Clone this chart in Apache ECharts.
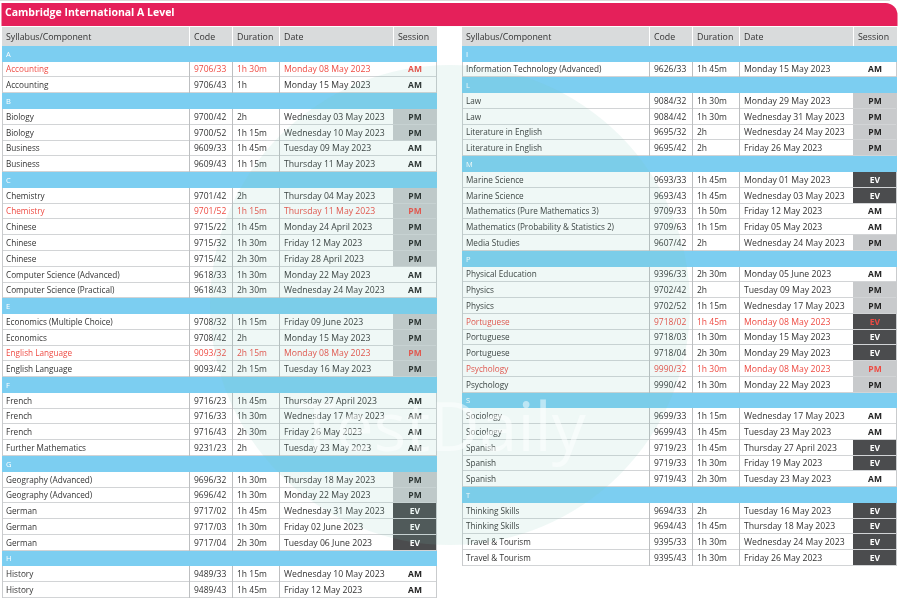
<!DOCTYPE html>
<html>
<head>
<meta charset="utf-8">
<script src="https://cdn.jsdelivr.net/npm/echarts@6/dist/echarts.min.js"></script>
<style>
  html, body { margin: 0; padding: 0; background: #fff; }
  #main { width: 900px; height: 605px; }
</style>
</head>
<body>
<div id="main"></div>
<script>
const headers = ['Syllabus/Component', 'Code', 'Duration', 'Date', 'Session'];

// left table (letter rows have an empty code)
const leftSyllabus = ['A', 'Accounting', 'Accounting', 'B', 'Biology', 'Biology', 'Business', 'Business',
  'C', 'Chemistry', 'Chemistry', 'Chinese', 'Chinese', 'Chinese', 'Computer Science (Advanced)', 'Computer Science (Practical)',
  'E', 'Economics (Multiple Choice)', 'Economics', 'English Language', 'English Language',
  'F', 'French', 'French', 'French', 'Further Mathematics',
  'G', 'Geography (Advanced)', 'Geography (Advanced)', 'German', 'German', 'German',
  'H', 'History', 'History'];
const leftCode = ['', '9706/33', '9706/43', '', '9700/42', '9700/52', '9609/33', '9609/43',
  '', '9701/42', '9701/52', '9715/22', '9715/32', '9715/42', '9618/33', '9618/43',
  '', '9708/32', '9708/42', '9093/32', '9093/42',
  '', '9716/23', '9716/33', '9716/43', '9231/23',
  '', '9696/32', '9696/42', '9717/02', '9717/03', '9717/04',
  '', '9489/33', '9489/43'];
const leftDuration = ['', '1h 30m', '1h', '', '2h', '1h 15m', '1h 45m', '1h 15m',
  '', '2h', '1h 15m', '1h 45m', '1h 30m', '2h 30m', '1h 30m', '2h 30m',
  '', '1h 15m', '2h', '2h 15m', '2h 15m',
  '', '1h 45m', '1h 30m', '2h 30m', '2h',
  '', '1h 30m', '1h 30m', '1h 45m', '1h 30m', '2h 30m',
  '', '1h 15m', '1h 45m'];
const leftDate = ['', 'Monday 08 May 2023', 'Monday 15 May 2023', '', 'Wednesday 03 May 2023', 'Wednesday 10 May 2023', 'Tuesday 09 May 2023', 'Thursday 11 May 2023',
  '', 'Thursday 04 May 2023', 'Thursday 11 May 2023', 'Monday 24 April 2023', 'Friday 12 May 2023', 'Friday 28 April 2023', 'Monday 22 May 2023', 'Wednesday 24 May 2023',
  '', 'Friday 09 June 2023', 'Monday 15 May 2023', 'Monday 08 May 2023', 'Tuesday 16 May 2023',
  '', 'Thursday 27 April 2023', 'Wednesday 17 May 2023', 'Friday 26 May 2023', 'Tuesday 23 May 2023',
  '', 'Thursday 18 May 2023', 'Monday 22 May 2023', 'Wednesday 31 May 2023', 'Friday 02 June 2023', 'Tuesday 06 June 2023',
  '', 'Wednesday 10 May 2023', 'Friday 12 May 2023'];
const leftSession = ['', 'AM', 'AM', '', 'PM', 'PM', 'AM', 'AM',
  '', 'PM', 'PM', 'PM', 'PM', 'PM', 'AM', 'AM',
  '', 'PM', 'PM', 'PM', 'PM',
  '', 'AM', 'AM', 'AM', 'AM',
  '', 'PM', 'PM', 'EV', 'EV', 'EV',
  '', 'AM', 'AM'];
const leftRed = [1, 10, 19];

// right table
const rightSyllabus = ['I', 'Information Technology (Advanced)', 'L', 'Law', 'Law', 'Literature in English', 'Literature in English',
  'M', 'Marine Science', 'Marine Science', 'Mathematics (Pure Mathematics 3)', 'Mathematics (Probability & Statistics 2)', 'Media Studies',
  'P', 'Physical Education', 'Physics', 'Physics', 'Portuguese', 'Portuguese', 'Portuguese', 'Psychology', 'Psychology',
  'S', 'Sociology', 'Sociology', 'Spanish', 'Spanish', 'Spanish',
  'T', 'Thinking Skills', 'Thinking Skills', 'Travel & Tourism', 'Travel & Tourism'];
const rightCode = ['', '9626/33', '', '9084/32', '9084/42', '9695/32', '9695/42',
  '', '9693/33', '9693/43', '9709/33', '9709/63', '9607/42',
  '', '9396/33', '9702/42', '9702/52', '9718/02', '9718/03', '9718/04', '9990/32', '9990/42',
  '', '9699/33', '9699/43', '9719/23', '9719/33', '9719/43',
  '', '9694/33', '9694/43', '9395/33', '9395/43'];
const rightDuration = ['', '1h 45m', '', '1h 30m', '1h 30m', '2h', '2h',
  '', '1h 45m', '1h 45m', '1h 50m', '1h 15m', '2h',
  '', '2h 30m', '2h', '1h 15m', '1h 45m', '1h 30m', '2h 30m', '1h 30m', '1h 30m',
  '', '1h 15m', '1h 45m', '1h 45m', '1h 30m', '2h 30m',
  '', '2h', '1h 45m', '1h 30m', '1h 30m'];
const rightDate = ['', 'Monday 15 May 2023', '', 'Monday 29 May 2023', 'Wednesday 31 May 2023', 'Wednesday 24 May 2023', 'Friday 26 May 2023',
  '', 'Monday 01 May 2023', 'Wednesday 03 May 2023', 'Friday 12 May 2023', 'Friday 05 May 2023', 'Wednesday 24 May 2023',
  '', 'Monday 05 June 2023', 'Tuesday 09 May 2023', 'Wednesday 17 May 2023', 'Monday 08 May 2023', 'Monday 15 May 2023', 'Monday 29 May 2023', 'Monday 08 May 2023', 'Monday 22 May 2023',
  '', 'Wednesday 17 May 2023', 'Tuesday 23 May 2023', 'Thursday 27 April 2023', 'Friday 19 May 2023', 'Tuesday 23 May 2023',
  '', 'Tuesday 16 May 2023', 'Thursday 18 May 2023', 'Wednesday 24 May 2023', 'Friday 26 May 2023'];
const rightSession = ['', 'AM', '', 'PM', 'PM', 'PM', 'PM',
  '', 'EV', 'EV', 'AM', 'AM', 'PM',
  '', 'AM', 'PM', 'PM', 'EV', 'EV', 'EV', 'PM', 'PM',
  '', 'AM', 'AM', 'EV', 'EV', 'AM',
  '', 'EV', 'EV', 'EV', 'EV'];
const rightRed = [17, 20];

// column edges in px along the x axis of each table
const COLS = [0, 186.5, 230.3, 277, 391, 435];
const HEAD = 1.2;   // header height, in row units
const FONT = '"Open Sans", sans-serif';

const sessionBg = { AM: '#ffffff', PM: '#c8cacc', EV: '#4b4c4e' };

function makeRender(t) {
  return function (params, api) {
    const i = api.value(0);
    const xs = COLS.map(c => Math.round(api.coord([c, 0])[0]));
    const y0 = Math.round(api.coord([0, i < 0 ? -HEAD : i])[1]);
    const y1 = Math.round(api.coord([0, i < 0 ? 0 : i + 1])[1]);
    const h = y1 - y0, w = xs[5] - xs[0], ym = (y0 + y1) / 2;
    const kids = [];
    const txt = (x, s, color, size, align, weight) => ({
      type: 'text',
      style: { x: x, y: ym + 0.5, text: s, fill: color, align: align || 'left', verticalAlign: 'middle',
        fontFamily: FONT, fontSize: size, fontWeight: weight || 'normal' }
    });
    const vline = (x, stroke) => ({ type: 'line', shape: { x1: x + 0.5, y1: y0, x2: x + 0.5, y2: y1 }, style: { stroke: stroke, lineWidth: 1 } });

    if (i < 0) {
      kids.push({ type: 'rect', shape: { x: xs[0], y: y0, width: w, height: h }, style: { fill: '#d9dbdc' } });
      for (let k = 1; k < 5; k++) kids.push(vline(xs[k], '#ffffff'));
      kids.push(txt(xs[0] + 4, headers[0], '#333', 8.8, 'left', 500));
      for (let k = 1; k < 5; k++) kids.push(txt(xs[k] + 5, headers[k], '#333', 8.8, 'left', 500));
      return { type: 'group', children: kids };
    }
    if (t.code[i] === '') {
      kids.push({ type: 'rect', shape: { x: xs[0], y: y0, width: w, height: h }, style: { fill: '#7ccef1' } });
      kids.push(txt(xs[0] + 4, t.syllabus[i], '#ffffff', 7.5));
      return { type: 'group', children: kids };
    }
    const red = t.red.indexOf(i) >= 0;
    const col = red ? '#ee4b43' : '#333';
    const ses = t.session[i];
    kids.push({ type: 'rect', shape: { x: xs[0], y: y0, width: w, height: h }, style: { fill: '#ffffff' } });
    kids.push({ type: 'rect', shape: { x: xs[4], y: y0, width: xs[5] - xs[4], height: h }, style: { fill: sessionBg[ses] } });
    kids.push({ type: 'line', shape: { x1: xs[0], y1: y1 - 0.5, x2: xs[5], y2: y1 - 0.5 }, style: { stroke: '#d2d4d6', lineWidth: 1 } });
    kids.push(vline(xs[0], '#c9cbcd'));
    for (let k = 1; k < 4; k++) kids.push(vline(xs[k], '#bdbfc1'));
    kids.push(vline(xs[5] - 1, '#c9cbcd'));
    kids.push(txt(xs[0] + 4, t.syllabus[i], col, 8.2));
    kids.push(txt(xs[1] + 5, t.code[i], col, 8.5));
    kids.push(txt(xs[2] + 5, t.duration[i], col, 8.5));
    kids.push(txt(xs[3] + 5, t.date[i], col, 8.7));
    const sesCol = red ? '#ee4b43' : (ses === 'EV' ? '#ffffff' : '#222');
    kids.push(txt((xs[4] + xs[5]) / 2, ses, sesCol, 8.5, 'center', 'bold'));
    return { type: 'group', children: kids };
  };
}

const leftTable = { syllabus: leftSyllabus, code: leftCode, duration: leftDuration, date: leftDate, session: leftSession, red: leftRed };
const rightTable = { syllabus: rightSyllabus, code: rightCode, duration: rightDuration, date: rightDate, session: rightSession, red: rightRed };

function rowsOf(t) {
  const d = [[-1]];
  t.syllabus.forEach((s, i) => d.push([i]));
  return d;
}

const ROW_PX = 15.77;
const chart = echarts.init(document.getElementById('main'), null, { renderer: 'canvas' });
chart.setOption({
  backgroundColor: '#ffffff',
  animation: false,
  title: {
    text: 'Cambridge International A Level',
    left: 5, top: 8, padding: 0,
    textStyle: { color: '#ffffff', fontSize: 10.5, fontWeight: 'bold', fontFamily: FONT }
  },
  grid: [
    { left: 2, top: 27, width: 435, height: Math.round((leftSyllabus.length + HEAD) * ROW_PX) },
    { left: 462, top: 27, width: 435, height: Math.round((rightSyllabus.length + HEAD) * ROW_PX) }
  ],
  xAxis: [
    { type: 'value', gridIndex: 0, min: 0, max: 435, show: false },
    { type: 'value', gridIndex: 1, min: 0, max: 435, show: false }
  ],
  yAxis: [
    { type: 'value', gridIndex: 0, min: -HEAD, max: leftSyllabus.length, inverse: true, show: false },
    { type: 'value', gridIndex: 1, min: -HEAD, max: rightSyllabus.length, inverse: true, show: false }
  ],
  graphic: [
    { type: 'line', z: -1, shape: { x1: 0, y1: 0.5, x2: 890, y2: 0.5 }, style: { stroke: '#dcdcdc', lineWidth: 1 } },
    { type: 'rect', z: -1, shape: { x: 1.5, y: 3, width: 896, height: 23, r: [0, 12, 0, 0] }, style: { fill: '#e5205a' } },
    { type: 'circle', z: 100, silent: true, shape: { cx: 450, cy: 305, r: 240 }, style: { fill: 'rgba(120,195,185,0.12)' } },
    { type: 'text', z: 101, silent: true, style: { x: 298, y: 432, text: 'TestDaily', fill: 'rgba(255,255,255,0.5)', fontSize: 68, fontFamily: FONT, verticalAlign: 'middle' } }
  ],
  series: [
    { type: 'custom', xAxisIndex: 0, yAxisIndex: 0, data: rowsOf(leftTable), renderItem: makeRender(leftTable), silent: true },
    { type: 'custom', xAxisIndex: 1, yAxisIndex: 1, data: rowsOf(rightTable), renderItem: makeRender(rightTable), silent: true }
  ]
});
</script>
</body>
</html>
